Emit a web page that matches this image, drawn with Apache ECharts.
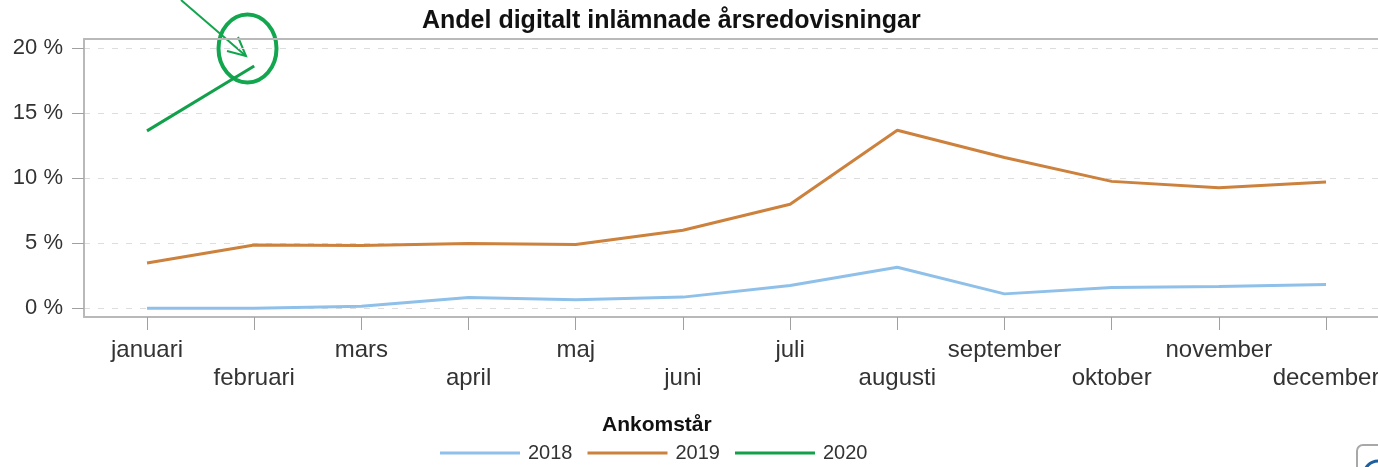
<!DOCTYPE html>
<html>
<head>
<meta charset="utf-8">
<script src="https://cdn.jsdelivr.net/npm/echarts@6/dist/echarts.min.js"></script>
<style>
  html, body { margin: 0; padding: 0; background: #fff; overflow: hidden; }
  #chart { width: 1378px; height: 467px; }
</style>
</head>
<body>
<div id="chart"></div>
<script>
var months = ['januari', 'februari', 'mars', 'april', 'maj', 'juni', 'juli', 'augusti', 'september', 'oktober', 'november', 'december'];
var years = ['2018', '2019', '2020'];
var share2018 = [0.0, 0.0, 0.15, 0.82, 0.65, 0.85, 1.75, 3.15, 1.1, 1.6, 1.67, 1.83];
var share2019 = [3.47, 4.86, 4.83, 4.97, 4.9, 6.0, 8.0, 13.7, 11.6, 9.76, 9.27, 9.72];
var share2020 = [13.65, 18.64];
var yTicks = [0, 5, 10, 15, 20];
var colors = ['#8fc0e9', '#cc813d', '#12a04b'];

var chartDom = document.getElementById('chart');
var myChart = echarts.init(chartDom);
var font = '"Liberation Sans", Arial, sans-serif';
var monthIdx = months.map(function (m, i) { return i; });
var axisGray = '#b9b9b9';

function toPoints(arr) {
  return arr.map(function (v, i) { return [i, v]; });
}

var seriesData = [share2018, share2019, share2020];

var option = {
  animation: false,
  color: colors,
  title: [
    {
      text: 'Andel digitalt inlämnade årsredovisningar',
      left: 422,
      top: 9,
      padding: 0,
      textStyle: { fontFamily: font, fontSize: 25, fontWeight: 'bold', color: '#111' }
    },
    {
      text: 'Ankomstår',
      left: 602,
      top: 415,
      padding: 0,
      textStyle: { fontFamily: font, fontSize: 21, fontWeight: 'bold', color: '#111' }
    }
  ],
  legend: {
    left: 440,
    top: 443,
    padding: 0,
    icon: 'rect',
    itemWidth: 80,
    itemHeight: 3,
    itemGap: 15,
    data: years,
    textStyle: { fontFamily: font, fontSize: 20, color: '#333', padding: [0, 0, 0, 3] }
  },
  grid: {
    left: 84,
    top: 39,
    right: 0,
    bottom: 150,
    containLabel: false,
    outerBoundsMode: 'none'
  },
  xAxis: [
    {
      type: 'value',
      min: -0.588,
      max: 11.485,
      axisLine: { show: true, onZero: false, lineStyle: { color: axisGray, width: 2 } },
      axisTick: { show: true, length: 13, customValues: monthIdx, lineStyle: { color: '#a0a0a0', width: 1 } },
      splitLine: { show: false },
      axisLabel: {
        customValues: monthIdx,
        margin: 19,
        fontFamily: font,
        fontSize: 24,
        lineHeight: 28,
        color: '#333',
        formatter: function (v) {
          var i = Math.round(v);
          return (i % 2 === 1 ? '\n' : '') + months[i];
        }
      }
    },
    {
      type: 'value',
      position: 'top',
      min: -0.588,
      max: 11.485,
      axisLine: { show: true, onZero: false, lineStyle: { color: axisGray, width: 2 } },
      axisTick: { show: false },
      axisLabel: { show: false },
      splitLine: { show: false }
    }
  ],
  yAxis: {
    type: 'value',
    min: -0.68,
    max: 20.72,
    axisLine: { show: true, onZero: false, lineStyle: { color: axisGray, width: 2 } },
    axisTick: { show: true, length: 12, customValues: yTicks, lineStyle: { color: '#a0a0a0', width: 1 } },
    axisLabel: {
      customValues: yTicks,
      margin: 21,
      fontFamily: font,
      fontSize: 22,
      color: '#333',
      formatter: function (v) { return Math.round(v) + ' %'; }
    },
    splitLine: { show: true, lineStyle: { color: '#dddddd', type: [6, 8], width: 1 } }
  },
  series: years.map(function (y, k) {
    return {
      name: y,
      type: 'line',
      data: toPoints(seriesData[k]),
      symbol: 'none',
      lineStyle: { width: 3, color: colors[k] },
      itemStyle: { color: colors[k] }
    };
  }),
  graphic: [
    {
      type: 'line',
      shape: { x1: 181, y1: 0, x2: 246, y2: 56 },
      style: { stroke: '#13a54e', lineWidth: 2 }
    },
    {
      type: 'polyline',
      shape: { points: [[227, 51], [246, 56], [238, 37]] },
      style: { stroke: '#13a54e', lineWidth: 2, fill: null }
    },
    {
      type: 'ellipse',
      shape: { cx: 247.5, cy: 48.5, rx: 29, ry: 34 },
      style: { stroke: '#12a64e', lineWidth: 4, fill: null }
    },
    {
      type: 'rect',
      shape: { x: 1357, y: 445, width: 40, height: 40, r: 6 },
      style: { stroke: '#a8a8a8', lineWidth: 2, fill: '#fff' }
    },
    {
      type: 'arc',
      shape: { cx: 1378, cy: 475, r: 14, startAngle: Math.PI, endAngle: Math.PI * 1.5 },
      style: { stroke: '#1f5f9e', lineWidth: 3, fill: null }
    }
  ]
};

option && myChart.setOption(option);
</script>
</body>
</html>
